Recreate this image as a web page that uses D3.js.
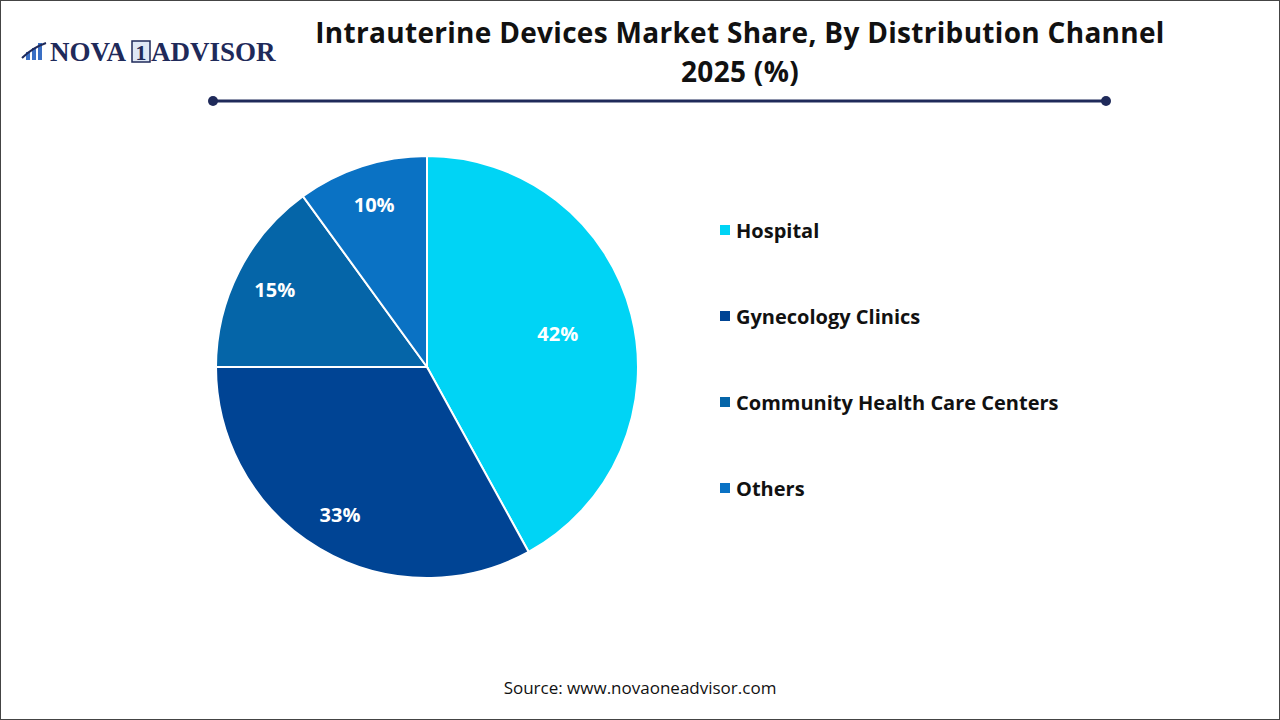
<!DOCTYPE html>
<html>
<head>
<meta charset="utf-8">
<script src="https://cdn.jsdelivr.net/npm/d3@7"></script>
<style>
  body { margin: 0; background: #fff; }
  svg { display: block; }
</style>
</head>
<body>
<svg id="chart" width="1280" height="720"></svg>
<script>
let categories = ["Hospital", "Gynecology Clinics", "Community Health Care Centers", "Others"];
let shares = [42, 33, 15, 10];
let colors = ["#00d4f5", "#004494", "#0565a8", "#0a72c4"];

let svg = d3.select("#chart");
let font = "'Open Sans', Roboto, sans-serif";

// frame
svg.append("rect")
  .attr("x", 0.5).attr("y", 0.5)
  .attr("width", 1279).attr("height", 719)
  .attr("fill", "none").attr("stroke", "#444").attr("stroke-width", 1);

// logo
let logo = svg.append("g").attr("transform", "translate(20,38)");
[[6, 8], [12, 12], [18, 17]].forEach(([x, h]) => {
  logo.append("rect").attr("x", x).attr("y", 22 - h).attr("width", 4).attr("height", h).attr("fill", "#3a6fc4");
});
logo.append("path")
  .attr("d", "M2,20 Q12,10 26,5")
  .attr("fill", "none").attr("stroke", "#1f2a5a").attr("stroke-width", 2);
logo.append("text")
  .attr("x", 30).attr("y", 23)
  .attr("font-family", "Liberation Serif, serif")
  .attr("font-weight", "bold").attr("font-size", 27)
  .attr("fill", "#1f2a5a")
  .text("NOVA");
logo.append("rect")
  .attr("x", 112).attr("y", 3).attr("width", 18).attr("height", 21)
  .attr("fill", "#dfe8f5").attr("stroke", "#1f2a5a").attr("stroke-width", 1.5);
logo.append("text")
  .attr("x", 121).attr("y", 22).attr("text-anchor", "middle")
  .attr("font-family", "Liberation Serif, serif")
  .attr("font-weight", "bold").attr("font-size", 22)
  .attr("fill", "#1f2a5a")
  .text("1");
logo.append("text")
  .attr("x", 131).attr("y", 23)
  .attr("font-family", "Liberation Serif, serif")
  .attr("font-weight", "bold").attr("font-size", 27)
  .attr("fill", "#1f2a5a")
  .text("ADVISOR");

// title
let title = svg.append("text")
  .attr("text-anchor", "middle")
  .attr("font-family", font)
  .attr("font-weight", "bold").attr("font-size", 28)
  .attr("letter-spacing", 0.3)
  .attr("fill", "#111");
title.append("tspan").attr("x", 740).attr("y", 43).text("Intrauterine Devices Market Share, By Distribution Channel");
title.append("tspan").attr("x", 740).attr("y", 82).text("2025 (%)");

svg.append("line")
  .attr("x1", 213).attr("x2", 1106).attr("y1", 101).attr("y2", 101)
  .attr("stroke", "#1f2a5a").attr("stroke-width", 3);
[213, 1106].forEach(x => {
  svg.append("circle").attr("cx", x).attr("cy", 101).attr("r", 5).attr("fill", "#1f2a5a");
});

// pie
let radius = 211;
let pieG = svg.append("g").attr("transform", "translate(427,367)");
let pie = d3.pie().sort(null).value(d => d);
let arcs = pie(shares);
let arc = d3.arc().innerRadius(0).outerRadius(radius);

pieG.selectAll("path")
  .data(arcs)
  .enter()
  .append("path")
  .attr("d", arc)
  .attr("fill", (d, i) => colors[i])
  .attr("stroke", "#fff")
  .attr("stroke-width", 2);

pieG.selectAll("text")
  .data(arcs)
  .enter()
  .append("text")
  .attr("transform", (d, i) => {
    let r = i === 0 ? radius * 0.64 : radius * 0.81;
    let c = d3.arc().innerRadius(r).outerRadius(r).centroid(d);
    return "translate(" + c + ")";
  })
  .attr("text-anchor", "middle")
  .attr("dominant-baseline", "central")
  .attr("font-family", font)
  .attr("font-weight", "bold").attr("font-size", 20)
  .attr("fill", "#fff")
  .text(d => d.data + "%");

// legend
let legend = svg.append("g").attr("transform", "translate(720,230)");
let rowY = d3.scalePoint().domain(categories).range([0, 258]);
let items = legend.selectAll("g")
  .data(categories)
  .enter()
  .append("g")
  .attr("transform", d => "translate(0," + rowY(d) + ")");
items.append("rect")
  .attr("x", 0).attr("y", -5).attr("width", 10).attr("height", 10)
  .attr("fill", (d, i) => colors[i]);
items.append("text")
  .attr("x", 16).attr("y", 0)
  .attr("dominant-baseline", "central")
  .attr("font-family", font)
  .attr("font-weight", "bold").attr("font-size", 20)
  .attr("fill", "#111")
  .text(d => d);

// source
svg.append("text")
  .attr("x", 640).attr("y", 694)
  .attr("text-anchor", "middle")
  .attr("font-family", font)
  .attr("font-size", 17)
  .attr("fill", "#111")
  .text("Source: www.novaoneadvisor.com");
</script>
</body>
</html>
